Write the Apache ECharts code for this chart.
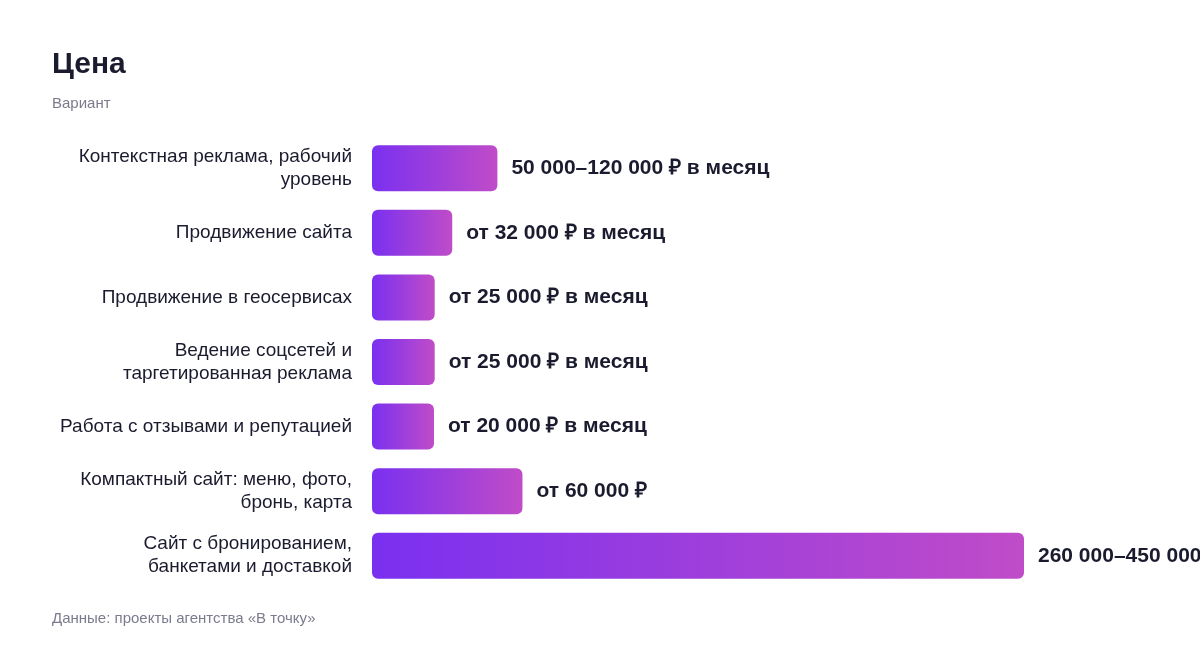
<!DOCTYPE html>
<html>
<head>
<meta charset="utf-8">
<script src="https://cdn.jsdelivr.net/npm/echarts@6/dist/echarts.min.js"></script>
<style>
  html, body { margin: 0; padding: 0; background: #fff; }
  #main { width: 1200px; height: 648px; }
</style>
</head>
<body>
<div id="main"></div>
<script>
// data
var categories = [
  'Контекстная реклама, рабочий\nуровень',
  'Продвижение сайта',
  'Продвижение в геосервисах',
  'Ведение соцсетей и\nтаргетированная реклама',
  'Работа с отзывами и репутацией',
  'Компактный сайт: меню, фото,\nбронь, карта',
  'Сайт с бронированием,\nбанкетами и доставкой'
];
var values = [50000, 32000, 25000, 25000, 20000, 60000, 260000];
var priceLabels = [
  '50 000–120 000 ₽ в месяц',
  'от 32 000 ₽ в месяц',
  'от 25 000 ₽ в месяц',
  'от 25 000 ₽ в месяц',
  'от 20 000 ₽ в месяц',
  'от 60 000 ₽',
  '260 000–450 000 ₽'
];

var font = '"Liberation Sans", Arial, Helvetica, sans-serif';
var dark = '#1b1b2f';
var grey = '#7b7b8e';

var myChart = echarts.init(document.getElementById('main'));

var barColor = new echarts.graphic.LinearGradient(0, 0, 1, 0, [
  { offset: 0, color: '#7a30f0' },
  { offset: 1, color: '#c04cc8' }
]);

var option = {
  backgroundColor: '#fff',
  animation: false,
  title: {
    text: 'Цена',
    subtext: 'Вариант',
    left: 52,
    top: 50,
    padding: 0,
    itemGap: 16,
    textStyle: { fontFamily: font, fontSize: 30, fontWeight: 'bold', color: dark },
    subtextStyle: { fontFamily: font, fontSize: 15, color: grey }
  },
  grid: { left: 372, right: 176, top: 136, bottom: 60, containLabel: false },
  xAxis: {
    type: 'value',
    min: 0,
    max: 260000,
    show: false
  },
  yAxis: {
    type: 'category',
    data: categories,
    inverse: true,
    axisLine: { show: false },
    axisTick: { show: false },
    axisLabel: {
      margin: 20,
      padding: [4, 0, 0, 0],
      fontFamily: font,
      fontSize: 19,
      lineHeight: 23,
      color: dark,
      align: 'right'
    }
  },
  series: [{
    type: 'bar',
    data: values,
    barWidth: 46,
    barMinHeight: 62,
    itemStyle: { color: barColor, borderRadius: 6 },
    label: {
      show: true,
      position: 'right',
      distance: 14,
      padding: [4, 0, 0, 0],
      fontFamily: font,
      fontSize: 21,
      fontWeight: 'bold',
      color: dark,
      formatter: function (p) { return priceLabels[p.dataIndex]; }
    }
  }],
  graphic: [{
    type: 'text',
    left: 52,
    top: 611,
    style: {
      text: 'Данные: проекты агентства «В точку»',
      font: '15px ' + font,
      fill: grey
    }
  }]
};

myChart.setOption(option);
</script>
</body>
</html>
